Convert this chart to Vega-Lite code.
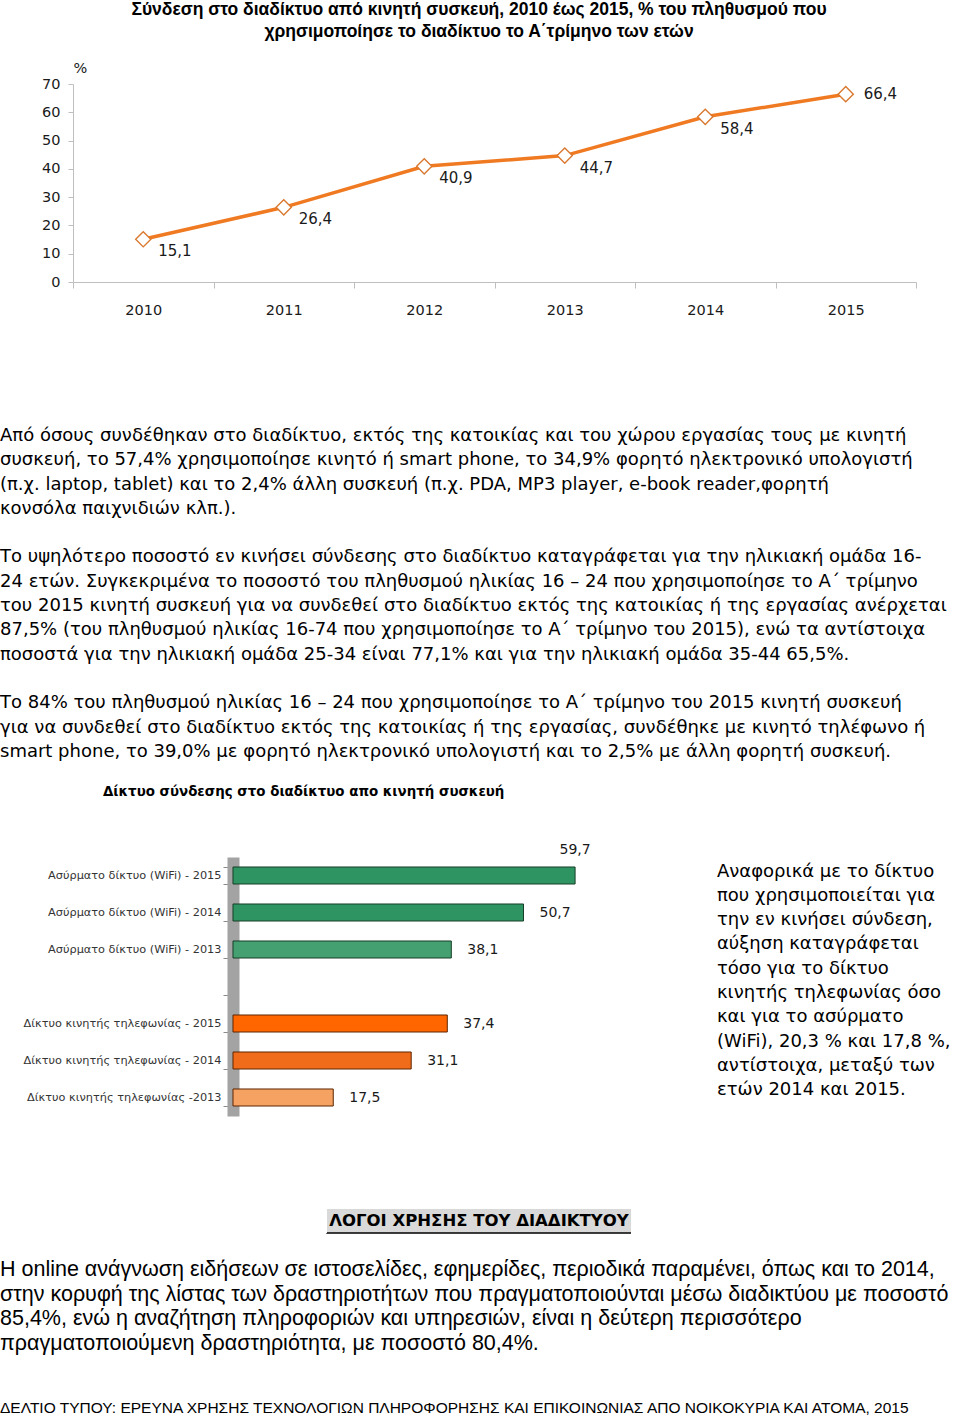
{
  "$schema": "https://vega.github.io/schema/vega-lite/v6.json",
  "padding": 0,
  "background": "white",
  "bounds": "flush",
  "spacing": 0,
  "config": {
    "view": {"stroke": null},
    "font": "DejaVu Sans",
    "locale": {"number": {"decimal": ",", "thousands": ".", "grouping": [3], "currency": ["", " €"]}}
  },
  "vconcat": [
    {
      "width": 812, "height": 83,
      "data": {"values": [
        {"line": 1, "text": "Σύνδεση στο διαδίκτυο από κινητή συσκευή, 2010 έως 2015, % του πληθυσμού που"},
        {"line": 2, "text": "χρησιμοποίησε το διαδίκτυο το Α΄τρίμηνο των ετών"}
      ]},
      "mark": {"type": "text", "align": "center", "baseline": "middle", "font": "Liberation Sans", "fontWeight": "bold", "fontSize": 17.5, "color": "#000"},
      "encoding": {
        "y": {"field": "line", "type": "quantitative", "scale": {"domain": [0.591, 4.364], "reverse": true, "zero": false, "nice": false}, "axis": null},
        "text": {"field": "text"}
      }
    },
    {
      "width": 843, "height": 198,
      "data": {"values": [
        {"year": "2010", "value": 15.1},
        {"year": "2011", "value": 26.4},
        {"year": "2012", "value": 40.9},
        {"year": "2013", "value": 44.7},
        {"year": "2014", "value": 58.4},
        {"year": "2015", "value": 66.4}
      ]},
      "encoding": {
        "x": {"field": "year", "type": "ordinal", "scale": {"type": "band", "paddingInner": 0, "paddingOuter": 0},
          "axis": {"title": null, "labelAngle": 0, "tickBand": "extent", "tickSize": 6, "labelPadding": 15, "domainColor": "#bfbfbf", "tickColor": "#bfbfbf", "labelFontSize": 14.5, "labelColor": "#1a1a1a", "labelFont": "DejaVu Sans", "grid": false}},
        "y": {"field": "value", "type": "quantitative", "scale": {"domain": [0, 70], "nice": false},
          "axis": {"values": [0, 10, 20, 30, 40, 50, 60, 70], "tickSize": 5, "labelPadding": 8, "domainColor": "#bfbfbf", "tickColor": "#bfbfbf", "labelFontSize": 14.5, "labelColor": "#1a1a1a", "labelFont": "DejaVu Sans", "grid": false,
            "title": "%", "titleAngle": 0, "titleAlign": "left", "titleBaseline": "middle", "titleX": 0, "titleY": -16, "titleFontSize": 14.5, "titleFontWeight": "normal", "titleFont": "DejaVu Sans", "titleColor": "#1a1a1a"}}
      },
      "layer": [
        {"mark": {"type": "line", "color": "#F07A22", "strokeWidth": 3.5}},
        {"mark": {"type": "point", "shape": "diamond", "filled": true, "fill": "white", "stroke": "#D9782F", "strokeWidth": 1.4, "size": 230, "opacity": 1}},
        {
          "transform": [{"filter": "datum.year != '2015'"}],
          "mark": {"type": "text", "align": "left", "baseline": "middle", "dx": 15, "dy": 12, "fontSize": 15, "color": "#1a1a1a"},
          "encoding": {"text": {"field": "value", "type": "quantitative", "format": ".1f"}}
        },
        {
          "transform": [{"filter": "datum.year == '2015'"}],
          "mark": {"type": "text", "align": "left", "baseline": "middle", "dx": 18, "dy": 0, "fontSize": 15, "color": "#1a1a1a"},
          "encoding": {"text": {"field": "value", "type": "quantitative", "format": ".1f"}}
        }
      ]
    },
    {
      "width": 1, "height": 574.5,
      "data": {"values": [
        {"line": 1, "text": "Από όσους συνδέθηκαν στο διαδίκτυο, εκτός της κατοικίας και του χώρου εργασίας τους με κινητή"},
        {"line": 2, "text": "συσκευή, το 57,4%  χρησιμοποίησε κινητό ή smart phone, το 34,9%  φορητό ηλεκτρονικό υπολογιστή"},
        {"line": 3, "text": "(π.χ. laptop, tablet) και το 2,4% άλλη συσκευή (π.χ. PDA, MP3 player, e-book reader,φορητή"},
        {"line": 4, "text": "κονσόλα παιχνιδιών κλπ.)."},
        {"line": 6, "text": "Το υψηλότερο ποσοστό εν κινήσει σύνδεσης στο διαδίκτυο καταγράφεται για την ηλικιακή ομάδα 16-"},
        {"line": 7, "text": "24 ετών. Συγκεκριμένα το ποσοστό του πληθυσμού ηλικίας 16 – 24 που χρησιμοποίησε το Α΄ τρίμηνο"},
        {"line": 8, "text": "του 2015 κινητή συσκευή για να συνδεθεί στο διαδίκτυο εκτός της κατοικίας ή της εργασίας ανέρχεται"},
        {"line": 9, "text": "87,5% (του πληθυσμού ηλικίας 16-74 που χρησιμοποίησε το Α΄ τρίμηνο του 2015), ενώ τα αντίστοιχα"},
        {"line": 10, "text": "ποσοστά για την ηλικιακή ομάδα 25-34 είναι 77,1% και για την ηλικιακή ομάδα 35-44 65,5%."},
        {"line": 12, "text": "Το 84% του πληθυσμού ηλικίας 16 – 24 που χρησιμοποίησε το Α΄ τρίμηνο του 2015 κινητή συσκευή"},
        {"line": 13, "text": "για να συνδεθεί στο διαδίκτυο εκτός της κατοικίας ή της εργασίας, συνδέθηκε με κινητό τηλέφωνο ή"},
        {"line": 14, "text": "smart phone, το 39,0% με φορητό ηλεκτρονικό υπολογιστή και το 2,5% με άλλη φορητή συσκευή."}
      ]},
      "mark": {"type": "text", "align": "left", "baseline": "middle", "dx": -73.5, "fontSize": 18, "color": "#000"},
      "encoding": {
        "y": {"field": "line", "type": "quantitative", "scale": {"domain": [-5.337, 18.305], "reverse": true, "zero": false, "nice": false}, "axis": null},
        "text": {"field": "text"}
      }
    },
    {
      "width": 844, "height": 259,
      "title": {"text": "Δίκτυο σύνδεσης στο διαδίκτυο απο κινητή συσκευή", "anchor": "start", "frame": "group", "dx": 30, "offset": 44, "font": "DejaVu Sans", "fontSize": 13.4, "fontWeight": "bold", "color": "#000"},
      "resolve": {"scale": {"y": "independent"}},
      "layer": [
        {
          "data": {"values": [
            {"cat": "Ασύρματο δίκτυο (WiFi) - 2015", "net": "wifi", "value": 59.7},
            {"cat": "Ασύρματο δίκτυο (WiFi) - 2014", "net": "wifi", "value": 50.7},
            {"cat": "Ασύρματο δίκτυο (WiFi) - 2013", "net": "wifi", "value": 38.1},
            {"cat": "Δίκτυο κινητής τηλεφωνίας - 2015", "net": "mobile", "value": 37.4},
            {"cat": "Δίκτυο κινητής τηλεφωνίας - 2014", "net": "mobile", "value": 31.1},
            {"cat": "Δίκτυο κινητής τηλεφωνίας -2013", "net": "mobile", "value": 17.5}
          ]},
          "encoding": {
            "y": {"field": "cat", "type": "nominal", "sort": null,
              "scale": {"domain": ["Ασύρματο δίκτυο (WiFi) - 2015", "Ασύρματο δίκτυο (WiFi) - 2014", "Ασύρματο δίκτυο (WiFi) - 2013", " ", "Δίκτυο κινητής τηλεφωνίας - 2015", "Δίκτυο κινητής τηλεφωνίας - 2014", "Δίκτυο κινητής τηλεφωνίας -2013"], "paddingInner": 0.54, "paddingOuter": 0.27},
              "axis": {"title": null, "offset": -160, "tickBand": "extent", "tickSize": 10, "labelPadding": 2, "domainWidth": 12, "domainColor": "#a3a3a3", "tickColor": "#8c8c8c", "labelFontSize": 11.3, "labelColor": "#333", "labelLimit": 320, "labelFont": "DejaVu Sans"}},
            "x": {"field": "value", "type": "quantitative", "scale": {"domain": [-27.92, 119.37], "nice": false, "zero": false}, "axis": null}
          },
          "layer": [
            {
              "mark": {"type": "bar", "strokeWidth": 1},
              "encoding": {
                "x2": {"datum": 0},
                "fill": {"field": "cat", "type": "nominal", "legend": null,
                  "scale": {"domain": ["Ασύρματο δίκτυο (WiFi) - 2015", "Ασύρματο δίκτυο (WiFi) - 2014", "Ασύρματο δίκτυο (WiFi) - 2013", "Δίκτυο κινητής τηλεφωνίας - 2015", "Δίκτυο κινητής τηλεφωνίας - 2014", "Δίκτυο κινητής τηλεφωνίας -2013"],
                    "range": ["#2E9462", "#2E9462", "#45A071", "#FF6600", "#F06C1A", "#F5A262"]}},
                "stroke": {"field": "net", "type": "nominal", "legend": null, "scale": {"domain": ["wifi", "mobile"], "range": ["#173F27", "#5E2600"]}}
              }
            },
            {
              "transform": [{"filter": "datum.cat != 'Ασύρματο δίκτυο (WiFi) - 2015'"}],
              "mark": {"type": "text", "align": "left", "baseline": "middle", "dx": 16, "fontSize": 14, "color": "#1a1a1a"},
              "encoding": {"text": {"field": "value", "type": "quantitative", "format": ".1f"}}
            },
            {
              "transform": [{"filter": "datum.cat == 'Ασύρματο δίκτυο (WiFi) - 2015'"}],
              "mark": {"type": "text", "align": "center", "baseline": "middle", "dx": 0, "dy": -26, "fontSize": 14, "color": "#1a1a1a"},
              "encoding": {"text": {"field": "value", "type": "quantitative", "format": ".1f"}}
            }
          ]
        },
        {
          "data": {"values": [
            {"line": 1, "text": "Αναφορικά με το δίκτυο"},
            {"line": 2, "text": "που χρησιμοποιείται για"},
            {"line": 3, "text": "την εν κινήσει σύνδεση,"},
            {"line": 4, "text": "αύξηση     καταγράφεται"},
            {"line": 5, "text": "τόσο    για    το    δίκτυο"},
            {"line": 6, "text": "κινητής τηλεφωνίας όσο"},
            {"line": 7, "text": "και  για  το  ασύρματο"},
            {"line": 8, "text": "(WiFi), 20,3 % και 17,8 %,"},
            {"line": 9, "text": "αντίστοιχα, μεταξύ των"},
            {"line": 10, "text": "ετών 2014 και 2015."}
          ]},
          "mark": {"type": "text", "align": "left", "baseline": "middle", "dx": 222, "fontSize": 18, "color": "#000"},
          "encoding": {
            "y": {"field": "line", "type": "quantitative", "scale": {"domain": [0.403, 11.061], "reverse": true, "zero": false, "nice": false}, "axis": null},
            "text": {"field": "text"}
          }
        }
      ]
    },
    {"width": 1, "height": 92.5, "data": {"values": []}, "mark": "point"},
    {
      "width": 558, "height": 24,
      "data": {"values": [{"text": "ΛΟΓΟΙ ΧΡΗΣΗΣ ΤΟΥ ΔΙΑΔΙΚΤΥΟΥ"}]},
      "encoding": {
        "x": {"field": "text", "type": "nominal", "scale": {"type": "band", "paddingInner": 0, "paddingOuter": 0.4178, "align": 1}, "axis": null}
      },
      "layer": [
        {"mark": {"type": "bar", "fill": "#D9D9D9", "stroke": "#000", "strokeWidth": 1.5, "strokeDash": [0, 328, 304, 24]}},
        {"mark": {"type": "text", "align": "center", "baseline": "middle", "fontSize": 16.5, "fontWeight": "bold", "color": "#000"},
         "encoding": {"text": {"field": "text"}}}
      ]
    },
    {
      "width": 1, "height": 165,
      "data": {"values": [
        {"line": 1, "text": "Η online ανάγνωση ειδήσεων σε ιστοσελίδες, εφημερίδες, περιοδικά παραμένει, όπως και το 2014,"},
        {"line": 2, "text": "στην κορυφή της λίστας των δραστηριοτήτων που πραγματοποιούνται μέσω διαδικτύου με ποσοστό"},
        {"line": 3, "text": "85,4%,    ενώ    η    αναζήτηση    πληροφοριών    και    υπηρεσιών,    είναι    η    δεύτερη    περισσότερο"},
        {"line": 4, "text": "πραγματοποιούμενη δραστηριότητα, με ποσοστό 80,4%."}
      ]},
      "mark": {"type": "text", "align": "left", "baseline": "middle", "dx": -73.5, "font": "Liberation Sans", "fontSize": 21.5, "color": "#000"},
      "encoding": {
        "y": {"field": "line", "type": "quantitative", "scale": {"domain": [-0.504, 6.203], "reverse": true, "zero": false, "nice": false}, "axis": null},
        "text": {"field": "text"}
      }
    },
    {
      "width": 1, "height": 21,
      "data": {"values": [{"line": 1, "text": "ΔΕΛΤΙΟ ΤΥΠΟΥ:  ΕΡΕΥΝΑ ΧΡΗΣΗΣ ΤΕΧΝΟΛΟΓΙΩΝ ΠΛΗΡΟΦΟΡΗΣΗΣ ΚΑΙ ΕΠΙΚΟΙΝΩΝΙΑΣ ΑΠΟ ΝΟΙΚΟΚΥΡΙΑ ΚΑΙ ΑΤΟΜΑ, 2015"}]},
      "mark": {"type": "text", "align": "left", "baseline": "middle", "dx": -73.5, "font": "Liberation Sans", "fontSize": 15.5, "color": "#000"},
      "encoding": {
        "y": {"field": "line", "type": "quantitative", "scale": {"domain": [0, 2.1], "reverse": true, "zero": false, "nice": false}, "axis": null},
        "text": {"field": "text"}
      }
    }
  ]
}
